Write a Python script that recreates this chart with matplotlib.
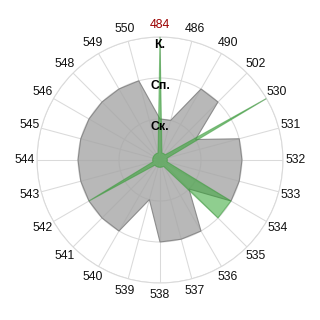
import numpy as np
import matplotlib.pyplot as plt

# categorias alrededor del circulo (sentido horario desde arriba)
categorias = ['484', '486', '490', '502', '530', '531', '532', '533', '534', '535',
              '536', '537', '538', '539', '540', '541', '542', '543', '544', '545',
              '546', '548', '549', '550']
# serie gris
gris = [1, 1, 2, 2, 1, 2, 2, 2, 2, 1,
        2, 2, 2, 1, 2, 2, 2, 2, 2, 2,
        2, 2, 2, 2]
# serie verde
verde = [3, 0.18, 0.18, 0.18, 3, 0.18, 0.18, 0.18, 2, 2,
         0.18, 0.18, 0.18, 0.18, 0.18, 0.18, 2, 0.18, 0.18, 0.18,
         0.18, 0.18, 0.18, 0.18]
# niveles de los anillos
niveles = [1, 2, 3]
etiq_niveles = ['Ск.', 'Сп.', 'К.']
destacada = '484'

plt.rcParams['font.family'] = ['Liberation Sans', 'DejaVu Sans']

n = len(categorias)
theta = np.arange(n) * 2 * np.pi / n
th = np.append(theta, theta[0])

fig = plt.figure(figsize=(3.2, 3.2), dpi=100)
ax = fig.add_axes([0.1156, 0.1156, 0.7688, 0.7688], projection='polar')
ax.set_theta_zero_location('N')
ax.set_theta_direction(-1)
ax.set_ylim(0, 3)

ax.fill(th, np.append(gris, gris[0]), facecolor='#a6a6a6', alpha=0.8,
        edgecolor='#7a7a7a', linewidth=0.8, zorder=2)
ax.fill(th, np.append(verde, verde[0]), facecolor=(0.2, 0.65, 0.2), alpha=0.55,
        edgecolor='#3a9a3a', linewidth=0.8, zorder=3)

ax.set_xticks(theta)
ax.set_xticklabels([])
ax.set_yticks(niveles)
ax.set_yticklabels([])
ax.grid(True, color='#dadada', linewidth=0.75)
ax.spines['polar'].set_color('#dadada')
ax.spines['polar'].set_linewidth(0.75)
ax.tick_params(length=0)

for t, c in zip(theta, categorias):
    color = '#9b0000' if c == destacada else '#111111'
    ax.text(t, 3.3, c, ha='center', va='center', fontsize=8.8, color=color)

for r, s in zip(niveles, etiq_niveles):
    ax.text(0, r - 0.2, s, ha='center', va='center', fontsize=8.8,
            fontweight='bold', color='black', zorder=5)

fig.savefig('out.png', dpi=100)
